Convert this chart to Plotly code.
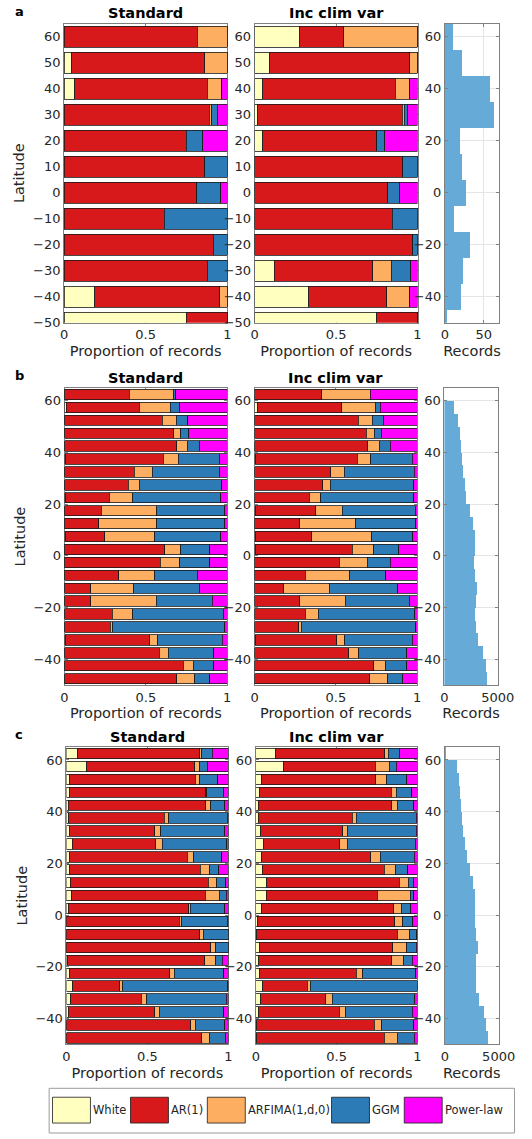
import plotly.graph_objects as go

W, H = 532, 1139

CATEGORIES = ["White", "AR(1)", "ARFIMA(1,d,0)", "GGM", "Power-law"]
COLORS = ["#ffffbf", "#d7191c", "#fdae61", "#2c7bb6", "#ff00ff"]
HIST_COLOR = "#66aad7"

# ---------------- panel a (10-degree bins) ----------------
LAT_A = [60, 50, 40, 30, 20, 10, 0, -10, -20, -30, -40, -50]
A_STD_WHITE = [0, 0.043, 0.067, 0, 0, 0, 0, 0, 0, 0, 0.188, 0.747]
A_STD_AR = [0.815, 0.82, 0.811, 0.888, 0.747, 0.863, 0.814, 0.614, 0.914, 0.878, 0.765, 0.253]
A_STD_ARFIMA = [0.185, 0.137, 0.089, 0.016, 0, 0, 0, 0, 0, 0, 0.047, 0]
A_STD_GGM = [0, 0, 0, 0.033, 0.102, 0.137, 0.147, 0.386, 0.086, 0.122, 0, 0]
A_STD_PL = [0, 0, 0.033, 0.063, 0.151, 0, 0.039, 0, 0, 0, 0, 0]

A_INC_WHITE = [0.273, 0.092, 0.051, 0.016, 0.049, 0, 0, 0, 0, 0.12, 0.333, 0.751]
A_INC_AR = [0.274, 0.861, 0.812, 0.89, 0.702, 0.91, 0.818, 0.845, 0.97, 0.604, 0.477, 0.249]
A_INC_ARFIMA = [0.453, 0.047, 0.088, 0.014, 0, 0, 0, 0, 0, 0.115, 0.141, 0]
A_INC_GGM = [0, 0, 0, 0.017, 0.049, 0.09, 0.07, 0.155, 0.03, 0.118, 0, 0]
A_INC_PL = [0, 0, 0.049, 0.063, 0.2, 0, 0.112, 0, 0, 0.043, 0.049, 0]

A_RECORDS = [11, 22, 58, 63, 20, 22, 27, 12, 33, 24, 21, 3]

# ---------------- panels b and c (5-degree bins) ----------------
LAT_BC = [62.5, 57.5, 52.5, 47.5, 42.5, 37.5, 32.5, 27.5, 22.5, 17.5, 12.5, 7.5,
          2.5, -2.5, -7.5, -12.5, -17.5, -22.5, -27.5, -32.5, -37.5, -42.5, -47.5]

B_STD_WHITE = [0, 0.012, 0, 0, 0, 0.004, 0, 0, 0.004, 0, 0, 0.004, 0, 0, 0, 0, 0, 0, 0, 0.004, 0, 0, 0]
B_STD_AR = [0.398, 0.448, 0.602, 0.671, 0.69, 0.603, 0.428, 0.391, 0.27, 0.227, 0.211, 0.243, 0.617,
            0.588, 0.333, 0.162, 0.162, 0.294, 0.28, 0.521, 0.584, 0.73, 0.69]
B_STD_ARFIMA = [0.273, 0.191, 0.084, 0.045, 0.065, 0.093, 0.112, 0.069, 0.146, 0.339, 0.357, 0.309, 0.099,
                0.12, 0.223, 0.264, 0.402, 0.126, 0.018, 0.049, 0.055, 0.063, 0.111]
B_STD_GGM = [0.013, 0.055, 0.073, 0.049, 0.073, 0.253, 0.413, 0.506, 0.542, 0.42, 0.418, 0.405, 0.176,
             0.184, 0.261, 0.402, 0.343, 0.556, 0.688, 0.396, 0.278, 0.126, 0.092]
B_STD_PL = [0.316, 0.294, 0.241, 0.235, 0.172, 0.047, 0.047, 0.034, 0.038, 0.014, 0.014, 0.039, 0.108,
            0.108, 0.183, 0.172, 0.093, 0.024, 0.014, 0.03, 0.083, 0.081, 0.107]

B_INC_WHITE = [0, 0.02, 0, 0, 0, 0.006, 0, 0, 0, 0.004, 0, 0.004, 0.004, 0, 0, 0, 0, 0, 0, 0.004, 0, 0, 0]
B_INC_AR = [0.412, 0.516, 0.637, 0.686, 0.696, 0.625, 0.469, 0.42, 0.335, 0.371, 0.278, 0.349, 0.598,
            0.521, 0.31, 0.178, 0.278, 0.312, 0.272, 0.503, 0.58, 0.734, 0.708]
B_INC_ARFIMA = [0.3, 0.206, 0.087, 0.05, 0.071, 0.085, 0.083, 0.045, 0.073, 0.163, 0.345, 0.369, 0.13,
                0.171, 0.276, 0.28, 0.28, 0.081, 0.014, 0.049, 0.061, 0.073, 0.113]
B_INC_GGM = [0, 0.031, 0.067, 0.043, 0.067, 0.254, 0.43, 0.515, 0.572, 0.452, 0.369, 0.252, 0.154,
             0.144, 0.221, 0.424, 0.393, 0.593, 0.706, 0.416, 0.296, 0.13, 0.092]
B_INC_PL = [0.288, 0.227, 0.209, 0.221, 0.166, 0.03, 0.018, 0.02, 0.02, 0.01, 0.008, 0.026, 0.114,
            0.164, 0.193, 0.118, 0.049, 0.014, 0.008, 0.028, 0.063, 0.063, 0.087]

B_RECORDS = [0, 930, 1235, 1446, 1536, 1657, 1747, 1898, 2048, 2380, 2711, 2861, 2861, 2800, 2892,
             3042, 2952, 2892, 2952, 3193, 3584, 3855, 4006]

C_STD_WHITE = [0.069, 0.125, 0.016, 0.016, 0.01, 0.014, 0.018, 0.036, 0.018, 0.022, 0.024, 0.032, 0.012,
               0, 0, 0, 0.006, 0.018, 0.04, 0.028, 0.01, 0, 0]
C_STD_AR = [0.755, 0.667, 0.778, 0.843, 0.851, 0.59, 0.527, 0.514, 0.729, 0.804, 0.851, 0.825, 0.744,
            0.697, 0.824, 0.891, 0.847, 0.62, 0.289, 0.433, 0.535, 0.768, 0.834]
C_STD_ARFIMA = [0.01, 0.032, 0.028, 0.008, 0.03, 0.026, 0.037, 0.042, 0.039, 0.057, 0.052, 0.086, 0.008,
                0.014, 0.02, 0.032, 0.068, 0.027, 0.02, 0.034, 0.027, 0.026, 0.051]
C_STD_GGM = [0.065, 0.045, 0.113, 0.101, 0.087, 0.362, 0.394, 0.396, 0.172, 0.058, 0.057, 0.043, 0.214,
             0.281, 0.156, 0.077, 0.041, 0.305, 0.647, 0.491, 0.398, 0.184, 0.095]
C_STD_PL = [0.101, 0.131, 0.065, 0.032, 0.022, 0.008, 0.024, 0.012, 0.042, 0.059, 0.016, 0.014, 0.022,
            0.008, 0, 0, 0.038, 0.03, 0.004, 0.014, 0.03, 0.022, 0.02]

C_INC_WHITE = [0.119, 0.173, 0.032, 0.022, 0.014, 0.014, 0.03, 0.044, 0.036, 0.04, 0.067, 0.063, 0.036,
               0.012, 0.004, 0.022, 0.018, 0.022, 0.042, 0.03, 0.018, 0.006, 0.006]
C_INC_AR = [0.679, 0.567, 0.71, 0.817, 0.827, 0.583, 0.508, 0.476, 0.674, 0.754, 0.822, 0.689, 0.817,
            0.847, 0.873, 0.827, 0.825, 0.599, 0.277, 0.403, 0.498, 0.728, 0.79]
C_INC_ARFIMA = [0.023, 0.085, 0.068, 0.03, 0.034, 0.024, 0.027, 0.045, 0.06, 0.071, 0.055, 0.204, 0.046,
                0.052, 0.075, 0.086, 0.074, 0.04, 0.016, 0.041, 0.04, 0.046, 0.081]
C_INC_GGM = [0.068, 0.044, 0.123, 0.095, 0.103, 0.373, 0.427, 0.423, 0.212, 0.075, 0.032, 0.022, 0.059,
             0.061, 0.044, 0.059, 0.053, 0.329, 0.665, 0.51, 0.412, 0.198, 0.105]
C_INC_PL = [0.111, 0.131, 0.067, 0.036, 0.022, 0.006, 0.008, 0.012, 0.018, 0.06, 0.024, 0.022, 0.042,
            0.028, 0.004, 0.006, 0.03, 0.01, 0, 0.016, 0.032, 0.022, 0.018]

C_RECORDS = [90, 1100, 1280, 1430, 1520, 1580, 1730, 1880, 2030, 2380, 2620, 2830, 2830, 2770, 2890,
             3070, 2890, 2860, 2920, 3160, 3610, 3810, 4020]

# ---------------- layout helpers (pixel -> paper) ----------------
def px(x):
    return x / W


def py(y):
    return 1 - y / H


FONT = "DejaVu Sans, Verdana, sans-serif"
TXT = "#262626"
FRAME = "#808080"

rows = [
    dict(key="a", top=24, bot=325, std=(62.5, 232.5), inc=(261, 430.5), hist=(459, 515.5),
         lat=LAT_A, binw=10, ytick_bar=list(range(-50, 61, 10)), hist_range=[0, 70], hist_ticks=[0, 50],
         std_vals=[A_STD_WHITE, A_STD_AR, A_STD_ARFIMA, A_STD_GGM, A_STD_PL],
         inc_vals=[A_INC_WHITE, A_INC_AR, A_INC_ARFIMA, A_INC_GGM, A_INC_PL], rec=A_RECORDS),
    dict(key="b", top=390.7, bot=690, std=(63, 232.3), inc=(261, 430), hist=(458.5, 514),
         lat=LAT_BC, binw=5, ytick_bar=list(range(-40, 61, 20)), hist_range=[0, 5000], hist_ticks=[0, 5000],
         std_vals=[B_STD_WHITE, B_STD_AR, B_STD_ARFIMA, B_STD_GGM, B_STD_PL],
         inc_vals=[B_INC_WHITE, B_INC_AR, B_INC_ARFIMA, B_INC_GGM, B_INC_PL], rec=B_RECORDS),
    dict(key="c", top=752.3, bot=1051.7, std=(65, 233.7), inc=(262.3, 430.3), hist=(459, 515),
         lat=LAT_BC, binw=5, ytick_bar=list(range(-40, 61, 20)), hist_range=[0, 5000], hist_ticks=[0, 5000],
         std_vals=[C_STD_WHITE, C_STD_AR, C_STD_ARFIMA, C_STD_GGM, C_STD_PL],
         inc_vals=[C_INC_WHITE, C_INC_AR, C_INC_ARFIMA, C_INC_GGM, C_INC_PL], rec=C_RECORDS),
]

fig = go.Figure()
layout = dict(
    width=W, height=H, autosize=False, margin=dict(l=0, r=0, t=0, b=0),
    paper_bgcolor="white", plot_bgcolor="white",
    barmode="stack", showlegend=False,
    font=dict(family=FONT, size=13, color=TXT),
)
annotations = []
shapes = []


def axis_common():
    return dict(showline=True, linecolor=FRAME, linewidth=1, mirror="ticks",
                ticks="inside", ticklen=3, tickcolor=FRAME, zeroline=False,
                tickfont=dict(family=FONT, size=13, color=TXT), fixedrange=True)


idx = 0
for r in rows:
    ydom = [py(r["bot"]), py(r["top"])]
    for kind in ["std", "inc", "hist"]:
        idx += 1
        xa = "xaxis" if idx == 1 else f"xaxis{idx}"
        ya = "yaxis" if idx == 1 else f"yaxis{idx}"
        xref = "x" if idx == 1 else f"x{idx}"
        yref = "y" if idx == 1 else f"y{idx}"
        x0, x1 = r[kind]
        xaxis = axis_common()
        yaxis = axis_common()
        xaxis.update(domain=[px(x0), px(x1)], anchor=yref)
        yaxis.update(domain=ydom, anchor=xref, range=[-50, 65])
        if kind in ("std", "inc"):
            vals = r["std_vals"] if kind == "std" else r["inc_vals"]
            for name, col, v in zip(CATEGORIES, COLORS, vals):
                fig.add_trace(go.Bar(
                    x=v, y=r["lat"], orientation="h", name=name, width=r["binw"] * 0.8,
                    marker=dict(color=col, line=dict(color="#1a1a1a", width=0.8)),
                    xaxis=xref, yaxis=yref, showlegend=False,
                    hovertemplate=name + ": %{x:.3f}<extra>%{y}</extra>"))
            xaxis.update(range=[0, 1], tickvals=[0, 0.5, 1], ticktext=["0", "0.5", "1"],
                         showgrid=False, title=dict(text="Proportion of records",
                                                    font=dict(family=FONT, size=14.5, color=TXT),
                                                    standoff=4))
            yaxis.update(tickvals=r["ytick_bar"], showgrid=False, layer="below traces")
            xaxis.update(layer="below traces")
            if kind == "std":
                yaxis.update(title=dict(text="Latitude", font=dict(family=FONT, size=14.5, color=TXT),
                                        standoff=4))
            annotations.append(dict(
                text="<b>" + ("Standard" if kind == "std" else "Inc clim var") + "</b>",
                x=px((x0 + x1) / 2), y=py(r["top"] - 10.5), xref="paper", yref="paper",
                showarrow=False, xanchor="center", yanchor="middle",
                font=dict(family=FONT, size=14.5, color="black")))
        else:
            fig.add_trace(go.Bar(
                x=r["rec"], y=r["lat"], orientation="h", width=r["binw"],
                marker=dict(color=HIST_COLOR, line=dict(width=0)),
                xaxis=xref, yaxis=yref, showlegend=False, name="Records",
                hovertemplate="%{x}<extra>%{y}</extra>"))
            xaxis.update(range=r["hist_range"], tickvals=r["hist_ticks"], showgrid=True,
                         gridcolor="#e5e5e5", gridwidth=1,
                         title=dict(text="Records", font=dict(family=FONT, size=14.5, color=TXT), standoff=4))
            yaxis.update(tickvals=list(range(-40, 61, 20)), showgrid=True, gridcolor="#e5e5e5", gridwidth=1)
        layout[xa] = xaxis
        layout[ya] = yaxis
    annotations.append(dict(
        text="<b>" + r["key"] + "</b>", x=px(9), y=py(r["top"] - 12.5), xref="paper", yref="paper",
        showarrow=False, xanchor="left", yanchor="middle",
        font=dict(family=FONT, size=13, color="black")))

# ---------------- legend (drawn as a box) ----------------
shapes.append(dict(type="rect", xref="paper", yref="paper",
                   x0=px(47), x1=px(531.5), y0=py(1141), y1=py(1096),
                   line=dict(color="#9a9a9a", width=1), fillcolor="white", layer="below"))
LEG_SWATCH_X = [50.5, 131.7, 211.7, 341, 416.7]
for name, col, sx in zip(CATEGORIES, COLORS, LEG_SWATCH_X):
    shapes.append(dict(type="rect", xref="paper", yref="paper",
                       x0=px(sx), x1=px(sx + 39.5), y0=py(1131), y1=py(1105),
                       line=dict(color="#1a1a1a", width=0.8), fillcolor=col, layer="below"))
    annotations.append(dict(text=name, x=px(sx + 41), y=py(1118), xref="paper", yref="paper",
                            showarrow=False, xanchor="left", yanchor="middle", borderpad=0,
                            font=dict(family=FONT, size=11.5, color=TXT)))

layout["annotations"] = annotations
layout["shapes"] = shapes
fig.update_layout(**layout)
fig.write_html(
    "out.html",
    config={"responsive": False, "displayModeBar": False},
    post_script="document.body.style.margin='0';document.body.style.overflow='hidden';",
)
